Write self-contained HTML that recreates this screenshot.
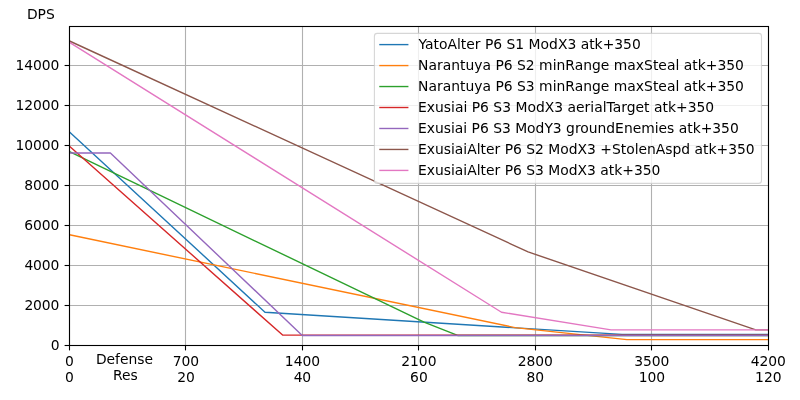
<!DOCTYPE html>
<html lang="en"><head><meta charset="utf-8"><title>DPS chart</title>
<style>html,body{margin:0;padding:0;background:#fff;}body{width:800px;height:400px;overflow:hidden;}svg{display:block;}text{font-family:"DejaVu Sans", "Liberation Sans", sans-serif;font-size:13.89px;fill:#000;}</style></head><body>
<svg width="800" height="400" viewBox="0 0 800 400">
<rect x="0" y="0" width="800" height="400" fill="#ffffff"/>
<g stroke="#b0b0b0" stroke-width="1.1" fill="none"><line x1="69.5" y1="26.5" x2="69.5" y2="345.5"/><line x1="185.5" y1="26.5" x2="185.5" y2="345.5"/><line x1="302.5" y1="26.5" x2="302.5" y2="345.5"/><line x1="418.5" y1="26.5" x2="418.5" y2="345.5"/><line x1="535.5" y1="26.5" x2="535.5" y2="345.5"/><line x1="651.5" y1="26.5" x2="651.5" y2="345.5"/><line x1="768.5" y1="26.5" x2="768.5" y2="345.5"/><line x1="69.5" y1="345.5" x2="768.5" y2="345.5"/><line x1="69.5" y1="305.5" x2="768.5" y2="305.5"/><line x1="69.5" y1="265.5" x2="768.5" y2="265.5"/><line x1="69.5" y1="225.5" x2="768.5" y2="225.5"/><line x1="69.5" y1="185.5" x2="768.5" y2="185.5"/><line x1="69.5" y1="145.5" x2="768.5" y2="145.5"/><line x1="69.5" y1="105.5" x2="768.5" y2="105.5"/><line x1="69.5" y1="65.5" x2="768.5" y2="65.5"/></g>
<g fill="none" stroke-width="1.39" stroke-linejoin="round" stroke-linecap="butt">
<polyline stroke="#1f77b4" points="69.50,131.90 265.00,312.25 622.00,334.40 768.30,334.40"/>
<polyline stroke="#ff7f0e" points="69.50,234.80 515.00,327.60 626.90,339.60 768.30,339.60"/>
<polyline stroke="#2ca02c" points="69.50,151.70 424.00,322.20 457.60,335.45 768.30,335.45"/>
<polyline stroke="#d62728" points="69.50,146.25 282.60,335.10 768.30,335.10"/>
<polyline stroke="#9467bd" points="69.50,153.00 110.40,153.00 302.25,335.45 768.30,335.45"/>
<polyline stroke="#8c564b" points="69.50,41.00 528.10,251.90 755.80,329.90 768.30,329.90"/>
<polyline stroke="#e377c2" points="69.50,42.40 501.50,312.25 611.00,329.90 768.30,329.90"/>
</g>
<rect x="69.5" y="26.5" width="699.0" height="319.0" fill="none" stroke="#000" stroke-width="1.1"/>
<g stroke="#000" stroke-width="1.1" fill="none"><line x1="69.5" y1="345.5" x2="69.5" y2="350.4"/><line x1="185.5" y1="345.5" x2="185.5" y2="350.4"/><line x1="302.5" y1="345.5" x2="302.5" y2="350.4"/><line x1="418.5" y1="345.5" x2="418.5" y2="350.4"/><line x1="535.5" y1="345.5" x2="535.5" y2="350.4"/><line x1="651.5" y1="345.5" x2="651.5" y2="350.4"/><line x1="768.5" y1="345.5" x2="768.5" y2="350.4"/><line x1="64.6" y1="345.5" x2="69.5" y2="345.5"/><line x1="64.6" y1="305.5" x2="69.5" y2="305.5"/><line x1="64.6" y1="265.5" x2="69.5" y2="265.5"/><line x1="64.6" y1="225.5" x2="69.5" y2="225.5"/><line x1="64.6" y1="185.5" x2="69.5" y2="185.5"/><line x1="64.6" y1="145.5" x2="69.5" y2="145.5"/><line x1="64.6" y1="105.5" x2="69.5" y2="105.5"/><line x1="64.6" y1="65.5" x2="69.5" y2="65.5"/></g>
<text x="50.65" y="350.20" textLength="8.750" lengthAdjust="spacing">0</text>
<text x="24.40" y="310.20" textLength="35.000" lengthAdjust="spacing">2000</text>
<text x="24.40" y="270.20" textLength="35.000" lengthAdjust="spacing">4000</text>
<text x="24.27" y="230.20" textLength="35.125" lengthAdjust="spacing">6000</text>
<text x="24.27" y="190.20" textLength="35.125" lengthAdjust="spacing">8000</text>
<text x="15.52" y="150.20" textLength="43.875" lengthAdjust="spacing">10000</text>
<text x="15.52" y="110.20" textLength="43.875" lengthAdjust="spacing">12000</text>
<text x="15.52" y="70.20" textLength="43.875" lengthAdjust="spacing">14000</text>
<text x="65.12" y="366.10" textLength="8.750" lengthAdjust="spacing">0</text>
<text x="65.12" y="382.40" textLength="8.750" lengthAdjust="spacing">0</text>
<text x="172.84" y="366.10" textLength="26.250" lengthAdjust="spacing">700</text>
<text x="177.22" y="382.40" textLength="17.500" lengthAdjust="spacing">20</text>
<text x="284.87" y="366.10" textLength="35.125" lengthAdjust="spacing">1400</text>
<text x="293.68" y="382.40" textLength="17.500" lengthAdjust="spacing">40</text>
<text x="401.34" y="366.10" textLength="35.125" lengthAdjust="spacing">2100</text>
<text x="410.09" y="382.40" textLength="17.625" lengthAdjust="spacing">60</text>
<text x="517.80" y="366.10" textLength="35.125" lengthAdjust="spacing">2800</text>
<text x="526.55" y="382.40" textLength="17.625" lengthAdjust="spacing">80</text>
<text x="634.33" y="366.10" textLength="35.000" lengthAdjust="spacing">3500</text>
<text x="638.65" y="382.40" textLength="26.375" lengthAdjust="spacing">100</text>
<text x="750.80" y="366.10" textLength="35.000" lengthAdjust="spacing">4200</text>
<text x="755.11" y="382.40" textLength="26.375" lengthAdjust="spacing">120</text>
<text x="95.90" y="364.00" textLength="57.125" lengthAdjust="spacing">Defense</text>
<text x="113.00" y="380.20" textLength="24.625" lengthAdjust="spacing">Res</text>
<text x="26.90" y="19.00" textLength="27.875" lengthAdjust="spacing">DPS</text>
<rect x="374.4" y="33.4" width="387.1" height="150.0" rx="2.8" ry="2.8" fill="#ffffff" fill-opacity="0.8" stroke="#cccccc" stroke-opacity="0.8" stroke-width="1.1"/>
<line x1="379.96" y1="44.60" x2="407.74" y2="44.60" stroke="#1f77b4" stroke-width="1.39" stroke-linecap="square"/>
<text x="418.40" y="49.05" textLength="222.375" lengthAdjust="spacing">YatoAlter P6 S1 ModX3 atk+350</text>
<line x1="379.96" y1="65.57" x2="407.74" y2="65.57" stroke="#ff7f0e" stroke-width="1.39" stroke-linecap="square"/>
<text x="418.00" y="70.02" textLength="325.875" lengthAdjust="spacing">Narantuya P6 S2 minRange maxSteal atk+350</text>
<line x1="379.96" y1="86.54" x2="407.74" y2="86.54" stroke="#2ca02c" stroke-width="1.39" stroke-linecap="square"/>
<text x="418.00" y="90.99" textLength="325.875" lengthAdjust="spacing">Narantuya P6 S3 minRange maxSteal atk+350</text>
<line x1="379.96" y1="107.51" x2="407.74" y2="107.51" stroke="#d62728" stroke-width="1.39" stroke-linecap="square"/>
<text x="418.00" y="111.96" textLength="296.125" lengthAdjust="spacing">Exusiai P6 S3 ModX3 aerialTarget atk+350</text>
<line x1="379.96" y1="128.48" x2="407.74" y2="128.48" stroke="#9467bd" stroke-width="1.39" stroke-linecap="square"/>
<text x="418.00" y="132.93" textLength="320.750" lengthAdjust="spacing">Exusiai P6 S3 ModY3 groundEnemies atk+350</text>
<line x1="379.96" y1="149.45" x2="407.74" y2="149.45" stroke="#8c564b" stroke-width="1.39" stroke-linecap="square"/>
<text x="418.00" y="153.90" textLength="336.625" lengthAdjust="spacing">ExusiaiAlter P6 S2 ModX3 +StolenAspd atk+350</text>
<line x1="379.96" y1="170.42" x2="407.74" y2="170.42" stroke="#e377c2" stroke-width="1.39" stroke-linecap="square"/>
<text x="418.00" y="174.87" textLength="242.375" lengthAdjust="spacing">ExusiaiAlter P6 S3 ModX3 atk+350</text>
</svg></body></html>
